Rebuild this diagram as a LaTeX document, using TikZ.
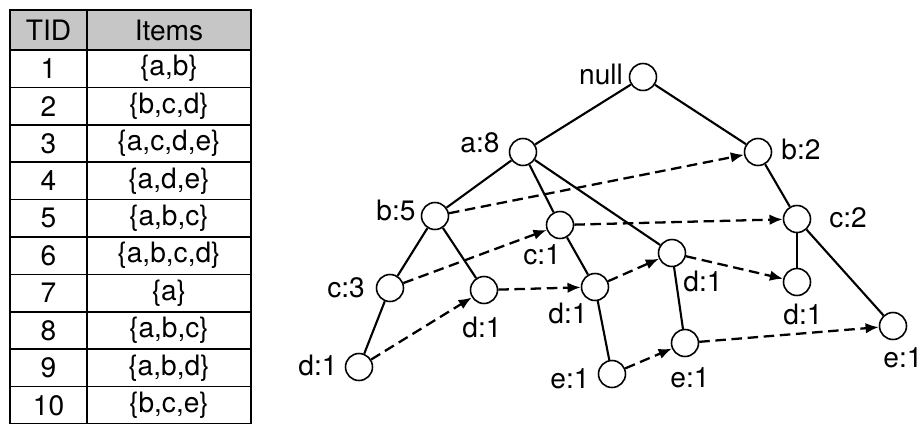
\documentclass[tikz,border=0pt]{standalone}
\usepackage{fontspec}
\setmainfont{TeX Gyre Heros}
\usetikzlibrary{arrows.meta}

\begin{document}
\begin{tikzpicture}[
    x=0.02cm, y=-0.02cm,
    cell/.style={draw, line width=0.9pt, minimum height=0.748cm, inner sep=0pt,
        font=\fontsize{16}{18}\selectfont},
    tid/.style={cell, minimum width=1.54cm},
    items/.style={cell, minimum width=3.28cm},
    head/.style={fill=gray!45, minimum height=0.8cm},
    vertex/.style={circle, draw, line width=0.9pt, minimum size=0.54cm, inner sep=0pt},
    edge/.style={line width=1.2pt},
    link/.style={line width=1.3pt, dash pattern=on 6pt off 3.2pt,
        -{Latex[length=7.5pt, width=6pt]}},
    cnt/.style={font=\fontsize{16}{18}\selectfont, inner sep=0pt}
]
    \useasboundingbox (0,0) rectangle (923,423);

    % Transaction table
    \node [tid, head] (h_tid) at (48.5, 30) {TID};
    \node [items, head] (h_items) at (169, 30) {Items};
    \foreach \tid/\set [count=\i] in {1/{\{a,b\}}, 2/{\{b,c,d\}}, 3/{\{a,c,d,e\}},
        4/{\{a,d,e\}}, 5/{\{a,b,c\}}, 6/{\{a,b,c,d\}}, 7/{\{a\}},
        8/{\{a,b,c\}}, 9/{\{a,b,d\}}, 10/{\{b,c,e\}}} {
        \node [tid] (t\i) at (48.5, 31.3+37.4*\i) {\tid};
        \node [items] (s\i) at (169, 31.3+37.4*\i) {\set};
    }

    % FP-tree nodes
    \node [vertex] (root) at (643, 77) {};
    \node [vertex] (a8) at (523, 152) {};
    \node [vertex] (b2) at (758, 152) {};
    \node [vertex] (b5) at (435, 216) {};
    \node [vertex] (c1) at (560, 225) {};
    \node [vertex] (c2) at (797, 219) {};
    \node [vertex] (c3) at (390, 288) {};
    \node [vertex] (b5d1) at (484, 290) {};
    \node [vertex] (c1d1) at (595, 287) {};
    \node [vertex] (a8d1) at (672, 253) {};
    \node [vertex] (c2d1) at (797, 282) {};
    \node [vertex] (c3d1) at (359, 367) {};
    \node [vertex] (c1e1) at (612, 374) {};
    \node [vertex] (a8e1) at (685, 343) {};
    \node [vertex] (c2e1) at (893, 326) {};

    % Item:count labels
    \node [cnt] (root_text) at (601, 74) {null};
    \node [cnt] (a8_text) at (480, 143) {a:8};
    \node [cnt] (b2_text) at (801, 149) {b:2};
    \node [cnt] (b5_text) at (396, 210) {b:5};
    \node [cnt] (c1_text) at (542, 255) {c:1};
    \node [cnt] (c2_text) at (848, 218) {c:2};
    \node [cnt] (c3_text) at (346, 288) {c:3};
    \node [cnt] (b5d1_text) at (482, 327) {d:1};
    \node [cnt] (c1d1_text) at (568, 313) {d:1};
    \node [cnt] (a8d1_text) at (703, 281) {d:1};
    \node [cnt] (c2d1_text) at (803, 314) {d:1};
    \node [cnt] (c3d1_text) at (318, 365) {d:1};
    \node [cnt] (c1e1_text) at (570, 379) {e:1};
    \node [cnt] (a8e1_text) at (690, 378) {e:1};
    \node [cnt] (c2e1_text) at (903, 358) {e:1};

    % Tree edges
    \draw [edge] (root) -- (a8);
    \draw [edge] (root) -- (b2);
    \draw [edge] (a8) -- (b5);
    \draw [edge] (a8) -- (c1);
    \draw [edge] (a8) -- (a8d1);
    \draw [edge] (b5) -- (c3);
    \draw [edge] (b5) -- (b5d1);
    \draw [edge] (c3) -- (c3d1);
    \draw [edge] (c1) -- (c1d1);
    \draw [edge] (c1d1) -- (c1e1);
    \draw [edge] (a8d1) -- (a8e1);
    \draw [edge] (b2) -- (c2);
    \draw [edge] (c2) -- (c2d1);
    \draw [edge] (c2) -- (c2e1);

    % Node links between equal items
    \draw [link] (b5) -- (b2);
    \draw [link] (c3) -- (c1);
    \draw [link] (c1) -- (c2);
    \draw [link] (c3d1) -- (b5d1);
    \draw [link] (b5d1) -- (c1d1);
    \draw [link] (c1d1) -- (a8d1);
    \draw [link] (a8d1) -- (c2d1);
    \draw [link] (c1e1) -- (a8e1);
    \draw [link] (a8e1) -- (c2e1);

\end{tikzpicture}
\end{document}
